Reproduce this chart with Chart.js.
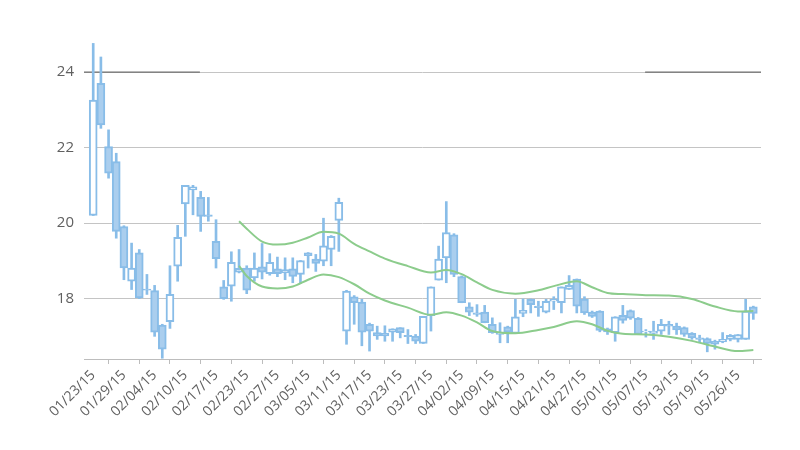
<!DOCTYPE html>
<html>
<head>
<meta charset="utf-8">
<script src="https://cdn.jsdelivr.net/npm/chart.js@4/dist/chart.umd.min.js"></script>
<style>
  html, body { margin: 0; padding: 0; background: #fff; }
  #wrap { width: 800px; height: 450px; }
</style>
</head>
<body>
<div id="wrap"><canvas id="chart" width="800" height="450"></canvas></div>
<script>
// trading days, one per candle
const dates = [
  '01/23/15','01/26/15','01/27/15','01/28/15','01/29/15','01/30/15',
  '02/02/15','02/03/15','02/04/15','02/05/15','02/06/15',
  '02/09/15','02/10/15','02/11/15','02/12/15','02/13/15',
  '02/17/15','02/18/15','02/19/15','02/20/15',
  '02/23/15','02/24/15','02/25/15','02/26/15','02/27/15',
  '03/02/15','03/03/15','03/04/15','03/05/15','03/06/15',
  '03/09/15','03/10/15','03/11/15','03/12/15','03/13/15',
  '03/16/15','03/17/15','03/18/15','03/19/15','03/20/15',
  '03/23/15','03/24/15','03/25/15','03/26/15','03/27/15',
  '03/30/15','03/31/15','04/01/15','04/02/15',
  '04/06/15','04/07/15','04/08/15','04/09/15','04/10/15',
  '04/13/15','04/14/15','04/15/15','04/16/15','04/17/15',
  '04/20/15','04/21/15','04/22/15','04/23/15','04/24/15',
  '04/27/15','04/28/15','04/29/15','04/30/15','05/01/15',
  '05/04/15','05/05/15','05/06/15','05/07/15','05/08/15',
  '05/11/15','05/12/15','05/13/15','05/14/15','05/15/15',
  '05/18/15','05/19/15','05/20/15','05/21/15','05/22/15',
  '05/26/15','05/27/15','05/28/15'
];

// OHLC
const opens = [
  20.20, 23.70, 22.03, 21.63, 19.91, 18.46, 19.21, 18.25, 18.21, 17.30,
  17.39, 18.86, 20.51, 20.88, 20.68, 20.22, 19.52, 18.31, 18.33, 18.70,
  18.81, 18.55, 18.84, 18.66, 18.79, 18.68, 18.79, 18.64, 19.21, 19.05,
  18.99, 19.30, 20.07, 17.14, 18.05, 17.91, 17.32, 17.10, 17.08, 17.11,
  17.23, 17.03, 17.01, 16.81, 17.55, 18.49, 19.08, 19.69, 18.58, 17.78,
  17.62, 17.64, 17.32, 17.05, 17.25, 17.08, 17.61, 17.98, 17.80, 17.64,
  17.93, 17.89, 18.24, 18.52, 17.99, 17.64, 17.67, 17.20, 17.10, 17.56,
  17.68, 17.48, 17.12, 17.08, 17.14, 17.32, 17.27, 17.23, 17.08, 16.96,
  16.94, 16.87, 16.85, 16.92, 16.92, 16.92, 17.78
];
const highs = [
  24.76, 24.40, 22.47, 21.85, 19.93, 19.47, 19.30, 18.64, 18.35, 17.32,
  18.87, 19.94, 21.00, 21.00, 20.84, 20.68, 20.09, 18.48, 19.24, 19.30,
  18.87, 19.21, 19.46, 19.19, 19.10, 19.08, 19.08, 19.01, 19.22, 19.17,
  20.13, 19.67, 20.66, 18.22, 18.08, 17.98, 17.35, 17.27, 17.28, 17.20,
  17.23, 17.18, 17.05, 17.53, 18.31, 19.39, 20.57, 19.72, 18.60, 17.89,
  17.84, 17.82, 17.49, 17.36, 17.27, 17.98, 17.99, 17.99, 17.93, 17.98,
  18.05, 18.31, 18.61, 18.52, 18.05, 17.67, 17.68, 17.22, 17.52, 17.82,
  17.70, 17.50, 17.18, 17.40, 17.45, 17.40, 17.35, 17.25, 17.10, 17.03,
  16.96, 16.90, 17.10, 17.05, 17.05, 17.98, 17.80
];
const lows = [
  20.20, 22.51, 21.19, 19.60, 18.50, 18.24, 18.00, 18.11, 17.00, 16.42,
  17.21, 18.46, 19.65, 20.22, 19.78, 20.05, 18.81, 17.98, 17.93, 18.68,
  18.13, 18.46, 18.52, 18.62, 18.58, 18.50, 18.42, 18.40, 18.81, 18.72,
  18.87, 18.87, 19.25, 16.79, 17.32, 16.75, 16.61, 16.92, 16.87, 16.87,
  16.96, 16.81, 16.81, 16.81, 17.14, 18.49, 18.42, 18.58, 17.89, 17.55,
  17.53, 17.36, 17.08, 16.83, 16.83, 17.08, 17.52, 17.62, 17.53, 17.62,
  17.71, 17.62, 18.24, 17.62, 17.58, 17.50, 17.12, 17.05, 16.87, 17.35,
  17.45, 17.05, 16.98, 16.92, 17.05, 17.05, 17.05, 17.00, 16.92, 16.83,
  16.59, 16.66, 16.83, 16.88, 16.85, 16.92, 17.45
];
const closes = [
  23.26, 22.60, 21.32, 19.78, 18.81, 18.81, 18.02, 18.22, 17.11, 16.66,
  18.11, 19.62, 21.00, 20.96, 20.18, 20.18, 19.06, 18.00, 18.96, 18.80,
  18.22, 18.81, 18.70, 18.96, 18.66, 18.77, 18.59, 19.01, 19.14, 18.93,
  19.40, 19.65, 20.55, 18.20, 17.89, 17.11, 17.14, 17.01, 17.01, 17.20,
  17.10, 16.99, 16.87, 17.53, 18.31, 19.05, 19.75, 18.64, 17.89, 17.64,
  17.58, 17.36, 17.10, 17.10, 17.11, 17.52, 17.69, 17.84, 17.76, 17.93,
  17.98, 18.31, 18.35, 17.80, 17.62, 17.53, 17.16, 17.12, 17.52, 17.42,
  17.48, 17.05, 17.14, 17.14, 17.32, 17.27, 17.17, 17.05, 16.96, 16.92,
  16.81, 16.79, 16.92, 17.03, 17.05, 17.67, 17.61
];

// band curves (day index -> value)
const bandDays = [19, 20, 22, 24, 26, 28, 30, 32, 34, 36, 38, 41, 44, 46, 48, 50, 52, 55, 58, 60, 63, 65, 67, 69, 72, 75, 78, 81, 84, 86];
const upperBand = [20.05, 19.85, 19.51, 19.43, 19.48, 19.62, 19.77, 19.72, 19.45, 19.25, 19.06, 18.86, 18.69, 18.76, 18.65, 18.43, 18.23, 18.13, 18.22, 18.33, 18.46, 18.30, 18.15, 18.12, 18.09, 18.08, 17.99, 17.79, 17.66, 17.67];
const lowerBand = [18.87, 18.60, 18.32, 18.27, 18.32, 18.50, 18.64, 18.57, 18.38, 18.13, 17.95, 17.76, 17.57, 17.64, 17.55, 17.37, 17.14, 17.08, 17.17, 17.25, 17.40, 17.32, 17.15, 17.07, 17.05, 16.99, 16.88, 16.73, 16.61, 16.64];

// the two dark pieces on the 24 line
const markLevel = 24;
const markSpans = [[-1.2, 13.9], [71.9, 87]];

const xMin = -1.2, xMax = 87;
const yMin = 16.4, yMax = 24.85;

const candleLine = 'rgb(137,189,232)';
const candleFill = 'rgb(170,206,238)';
const bandColor = 'rgb(140,204,140)';
const textColor = '#606060';

const wickData = highs.map((h, i) => ({ x: i, y: [lows[i], h] }));
const bodyData = opens.map((o, i) => ({ x: i, y: [o, closes[i]] }));
const bodyColors = opens.map((o, i) => closes[i] >= o ? '#ffffff' : candleFill);

const markSets = markSpans.map(s => ({
  type: 'line',
  data: [{ x: s[0], y: markLevel }, { x: s[1], y: markLevel }],
  borderColor: '#555',
  borderWidth: 1,
  pointRadius: 0,
  order: 3
}));

new Chart(document.getElementById('chart'), {
  type: 'bar',
  data: {
    datasets: [
      {
        type: 'line',
        data: bandDays.map((d, i) => ({ x: d, y: upperBand[i] })),
        borderColor: bandColor, borderWidth: 2, pointRadius: 0,
        cubicInterpolationMode: 'monotone', order: -1
      },
      {
        type: 'line',
        data: bandDays.map((d, i) => ({ x: d, y: lowerBand[i] })),
        borderColor: bandColor, borderWidth: 2, pointRadius: 0,
        cubicInterpolationMode: 'monotone', order: -1
      },
      {
        data: bodyData,
        backgroundColor: bodyColors,
        borderColor: candleLine,
        borderWidth: 2,
        borderSkipped: false,
        barThickness: 8,
        grouped: false,
        order: 0
      },
      {
        data: wickData,
        backgroundColor: candleLine,
        borderWidth: 0,
        barThickness: 2,
        grouped: false,
        order: 1
      },
      ...markSets
    ]
  },
  options: {
    responsive: false,
    animation: false,
    layout: { padding: { top: 40, right: 39, left: 0, bottom: 0 } },
    plugins: { legend: { display: false }, tooltip: { enabled: false } },
    scales: {
      x: {
        type: 'linear',
        min: xMin,
        max: xMax,
        offset: false,
        grid: { drawOnChartArea: false, tickLength: 5, color: '#bdbdbd' },
        border: { color: '#bdbdbd' },
        ticks: {
          autoSkip: false,
          minRotation: 45,
          maxRotation: 45,
          color: textColor,
          font: { family: 'Open Sans', size: 14 },
          callback: v => dates[v]
        },
        afterBuildTicks: s => {
          s.ticks = dates.map((d, i) => ({ value: i })).filter(t => t.value % 4 === 0);
        },
        afterFit: s => { s.height = 91; }
      },
      y: {
        min: yMin,
        max: yMax,
        grid: { color: '#c4c4c4', drawTicks: false },
        border: { display: false },
        ticks: {
          stepSize: 2,
          padding: 10,
          color: textColor,
          font: { family: 'Open Sans', size: 15 }
        },
        afterBuildTicks: s => {
          s.ticks = s.ticks.filter(t => Math.abs(t.value % 2) < 1e-6);
        },
        afterFit: s => { s.width = 84; }
      }
    }
  }
});
</script>
</body>
</html>
